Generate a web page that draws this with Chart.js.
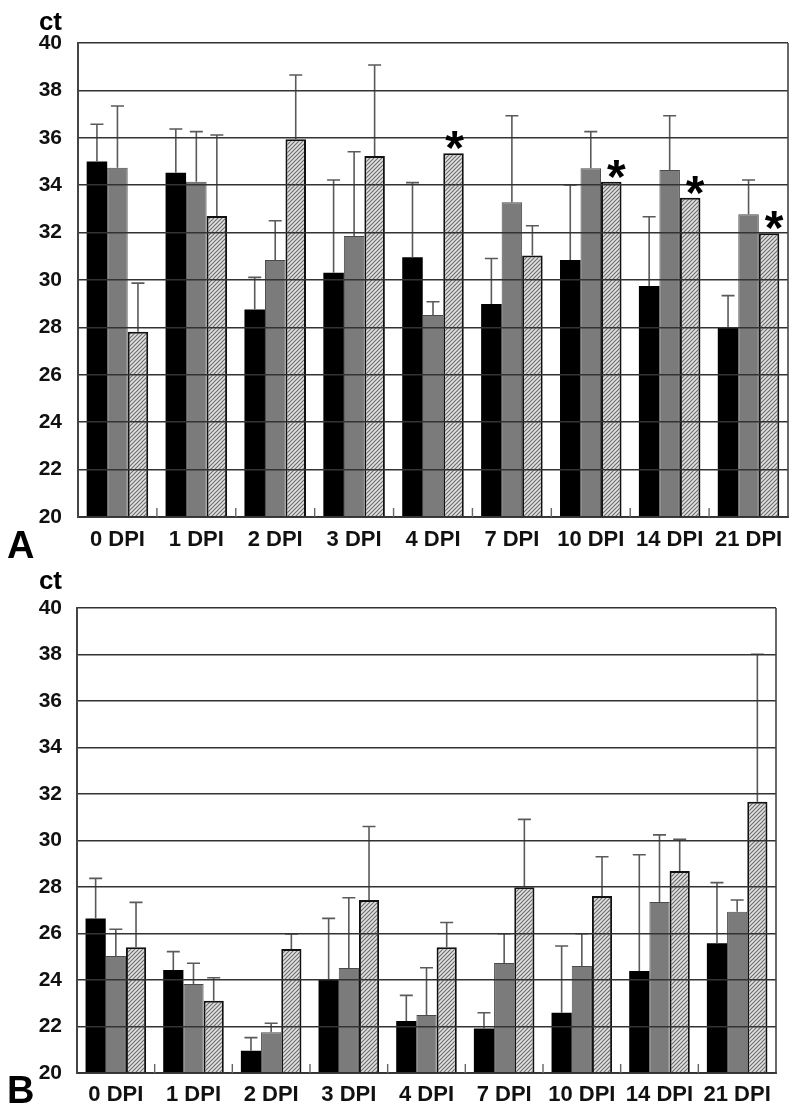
<!DOCTYPE html>
<html><head><meta charset="utf-8">
<script src="https://cdn.jsdelivr.net/npm/chart.js@4.4.1/dist/chart.umd.min.js"></script>
<style>
html,body{margin:0;padding:0;background:#fff;}
#wrapA{position:absolute;left:0;top:0;width:800px;height:560px;}
#wrapB{position:absolute;left:0;top:560px;width:800px;height:559px;}
canvas{display:block;}
</style></head><body>
<div id="wrapA"><canvas id="cA" width="800" height="560"></canvas></div>
<div id="wrapB"><canvas id="cB" width="800" height="559"></canvas></div>
<script>
// ---- data ----
const categories = ['0 DPI','1 DPI','2 DPI','3 DPI','4 DPI','7 DPI','10 DPI','14 DPI','21 DPI'];
const yMin = 20, yMax = 40, yStep = 2;

// Panel A
const aBlack      = [35.00, 34.53, 28.76, 30.31, 30.96, 28.99, 30.84, 29.75, 28.00];
const aBlackSD    = [ 1.57,  1.84,  1.35,  3.91,  3.15,  1.92,  3.17,  2.92,  1.34];
const aGray       = [34.74, 34.15, 30.84, 31.86, 28.52, 33.28, 34.71, 34.64, 32.77];
const aGraySD     = [ 2.60,  2.11,  1.66,  3.55,  0.56,  3.65,  1.55,  2.29,  1.45];
const aHatched    = [27.82, 32.70, 35.94, 35.23, 35.35, 31.03, 34.15, 33.47, 31.97];
const aHatchedSD  = [ 2.05,  3.42,  2.71,  3.84,  0,     1.26,  0,     0,     0   ];
const aStars      = [false, false, false, false, true,  false, true,  true,  true ];

// Panel B
const bBlack      = [26.65, 24.43, 20.96, 24.04, 22.24, 21.91, 22.59, 24.39, 25.58];
const bBlackSD    = [ 1.72,  0.79,  0.56,  2.61,  1.10,  0.68,  2.87,  5.00,  2.61];
const bGray       = [25.03, 23.83, 21.75, 24.52, 22.49, 24.73, 24.60, 27.35, 26.94];
const bGraySD     = [ 1.15,  0.89,  0.39,  3.02,  2.04,  1.26,  1.39,  2.89,  0.50];
const bHatched    = [25.41, 23.11, 25.33, 27.44, 25.41, 27.99, 27.61, 28.69, 31.67];
const bHatchedSD  = [ 1.93,  0.99,  0.65,  3.16,  1.06,  2.92,  1.69,  1.36,  6.34];
const bStars      = [false, false, false, false, false, false, false, false, false];

// ---- helpers ----
const FONT = "'Liberation Sans', Arial, sans-serif";

function makeHatch(ctx){
  const c = document.createElement('canvas');
  c.width = 4; c.height = 4;
  const g = c.getContext('2d');
  g.fillStyle = '#e2e2e2'; g.fillRect(0,0,4,4);
  g.strokeStyle = '#6e6e6e'; g.lineWidth = 1.2;
  g.beginPath();
  g.moveTo(-1,5); g.lineTo(5,-1);
  g.moveTo(-3,3); g.lineTo(3,-3);
  g.moveTo(1,7); g.lineTo(7,1);
  g.stroke();
  return ctx.createPattern(c,'repeat');
}

const decorPlugin = {
  id: 'decor',
  afterDatasetsDraw(chart, args, opts){
    const ctx = chart.ctx, ys = chart.scales.y;
    ctx.save();
    chart.data.datasets.forEach((ds, di) => {
      const meta = chart.getDatasetMeta(di);
      meta.data.forEach((bar, i) => {
        const sd = ds.sd[i];
        if (!sd) return;
        const top = ys.getPixelForValue(ds.data[i] + sd);
        ctx.strokeStyle = '#5a5a5a';
        ctx.lineWidth = 1.6;
        ctx.beginPath();
        ctx.moveTo(bar.x, bar.y);
        ctx.lineTo(bar.x, top);
        ctx.moveTo(bar.x - 6.5, top);
        ctx.lineTo(bar.x + 6.5, top);
        ctx.stroke();
      });
    });
    ctx.restore();
  },
  afterDraw(chart, args, opts){
    const ctx = chart.ctx, a = chart.chartArea, xs = chart.scales.x;
    ctx.save();
    // right frame line
    ctx.strokeStyle = '#444'; ctx.lineWidth = 1.6;
    ctx.beginPath(); ctx.moveTo(a.right, a.top); ctx.lineTo(a.right, a.bottom); ctx.stroke();
    // inward tick marks at category boundaries
    ctx.strokeStyle = '#666'; ctx.lineWidth = 1.4;
    ctx.beginPath();
    for (let i = 0; i < categories.length - 1; i++){
      const x = (xs.getPixelForValue(i) + xs.getPixelForValue(i+1)) / 2;
      ctx.moveTo(x, a.bottom); ctx.lineTo(x, a.bottom - 9);
    }
    ctx.stroke();
    // asterisks
    const meta = chart.getDatasetMeta(2);
    ctx.fillStyle = '#000';
    ctx.font = 'bold 48px ' + FONT;
    ctx.textAlign = 'center'; ctx.textBaseline = 'alphabetic';
    opts.stars.forEach((s, i) => {
      if (!s) return;
      const bar = meta.data[i];
      ctx.fillText('*', bar.x + (i === 4 ? 1 : 5), bar.y + 11);
    });
    // texts
    ctx.textAlign = 'right';
    ctx.font = 'bold 26px ' + FONT;
    ctx.fillText('ct', 62, opts.ctY);
    ctx.textAlign = 'left';
    ctx.font = 'bold 38px ' + FONT;
    ctx.fillText(opts.letter, 7, opts.letterY);
    ctx.restore();
  }
};

function buildChart(id, black, blackSD, gray, graySD, hatched, hatchedSD, stars, lay){
  const canvas = document.getElementById(id);
  const ctx = canvas.getContext('2d');
  const hatch = makeHatch(ctx);
  return new Chart(ctx, {
    type: 'bar',
    data: {
      labels: categories,
      datasets: [
        {data: black,   sd: blackSD,   backgroundColor: '#000', borderColor: '#000', borderWidth: 0},
        {data: gray,    sd: graySD,    backgroundColor: '#7b7b7b', borderColor: '#4a4a4a', borderWidth: 1},
        {data: hatched, sd: hatchedSD, backgroundColor: hatch, borderColor: '#111', borderWidth: 2}
      ]
    },
    options: {
      responsive: false,
      animation: false,
      devicePixelRatio: 1,
      layout: {padding: {top: lay.top, right: lay.right, bottom: 0, left: 0}},
      datasets: {bar: {barPercentage: 1.0, categoryPercentage: 0.78, borderSkipped: 'start'}},
      plugins: {
        legend: {display: false},
        tooltip: {enabled: false},
        decor: {stars: stars, letter: lay.letter, letterY: lay.letterY, ctY: lay.ctY}
      },
      scales: {
        x: {
          grid: {display: false, drawTicks: false},
          border: {display: true, color: '#444', width: 2, z: 1},
          ticks: {color: '#111', font: {family: FONT, size: 22, weight: 'bold'}, padding: lay.xPad, autoSkip: false, maxRotation: 0},
          afterFit(s){ s.height = lay.xH; }
        },
        y: {
          min: yMin, max: yMax,
          grid: {color: '#333', lineWidth: 1.6, drawTicks: false, z: 1},
          border: {display: true, color: '#444', width: 2, z: 1},
          ticks: {stepSize: yStep, color: '#111', font: {family: FONT, size: 21, weight: 'bold'}, padding: lay.yPad},
          afterFit(s){ s.width = lay.yW; }
        }
      }
    },
    plugins: [decorPlugin]
  });
}

buildChart('cA', aBlack, aBlackSD, aGray, aGraySD, aHatched, aHatchedSD, aStars,
  {top: 43, right: 12, xH: 43, yW: 78, xPad: 10, yPad: 16, letter: 'A', letterY: 558, ctY: 30});
buildChart('cB', bBlack, bBlackSD, bGray, bGraySD, bHatched, bHatchedSD, bStars,
  {top: 48, right: 24, xH: 46, yW: 77, xPad: 9, yPad: 15, letter: 'B', letterY: 543, ctY: 29});
</script>
</body></html>
